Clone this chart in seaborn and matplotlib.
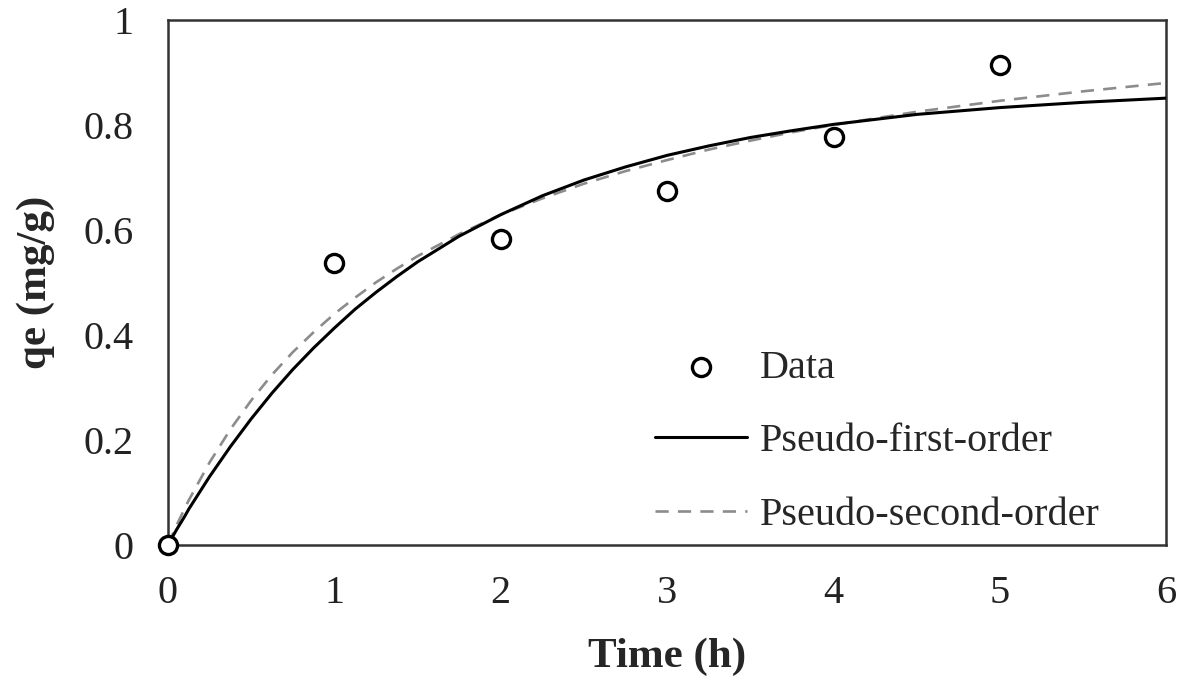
import numpy as np
import pandas as pd
import seaborn as sns
import matplotlib.pyplot as plt

# measured points
t_data = [0, 1, 2, 3, 4, 5]
q_data = [0, 0.537, 0.583, 0.674, 0.777, 0.914]

# fitted curves
t_fit = [0, 0.05, 0.1, 0.125, 0.25, 0.375, 0.5, 0.625, 0.75, 0.875, 1, 1.125, 1.25,
         1.375, 1.5, 1.75, 2, 2.25, 2.5, 2.75, 3, 3.25, 3.5, 3.75, 4, 4.5, 5, 5.5, 6]
q_first = [0, 0.028, 0.054, 0.068, 0.130, 0.187, 0.240, 0.289, 0.334, 0.375, 0.413,
           0.449, 0.481, 0.511, 0.539, 0.588, 0.629, 0.665, 0.695, 0.720, 0.742,
           0.760, 0.776, 0.789, 0.801, 0.820, 0.833, 0.843, 0.851]
q_second = [0, 0.036, 0.069, 0.085, 0.157, 0.220, 0.275, 0.324, 0.367, 0.405, 0.440,
            0.471, 0.500, 0.526, 0.550, 0.592, 0.629, 0.660, 0.688, 0.712, 0.733,
            0.753, 0.770, 0.786, 0.800, 0.825, 0.846, 0.864, 0.880]

x_ticks = [0, 1, 2, 3, 4, 5, 6]
y_ticks = [0, 0.2, 0.4, 0.6, 0.8, 1]
y_labels = ["0", "0.2", "0.4", "0.6", "0.8", "1"]

sns.set_style("white")
plt.rcParams["font.family"] = ["Liberation Serif", "DejaVu Serif"]

df_pts = pd.DataFrame({"t": t_data, "q": q_data})
df_fit = pd.DataFrame({"t": t_fit, "first": q_first, "second": q_second})

fig = plt.figure(figsize=(11.83, 6.87), dpi=100)
ax = fig.add_axes([0.142, 0.207, 0.844, 0.764])

sns.lineplot(data=df_fit, x="t", y="first", ax=ax, color="black", lw=2.2,
             label="Pseudo-first-order", zorder=3)
sns.lineplot(data=df_fit, x="t", y="second", ax=ax, color="#8c8c8c", lw=1.9,
             linestyle=(0, (5, 3.5)), label="Pseudo-second-order", zorder=2)
sns.scatterplot(data=df_pts, x="t", y="q", ax=ax, marker="o", s=170,
                facecolor="white", edgecolor="black", linewidth=2.4,
                label="Data", zorder=4, clip_on=False)

ax.set_xlim(0, 6)
ax.set_ylim(0, 1)
ax.set_xticks(x_ticks)
ax.set_yticks(y_ticks)
ax.set_yticklabels(y_labels)
ax.tick_params(axis="both", length=0, labelsize=29, colors="#222222")
ax.tick_params(axis="y", pad=25)
ax.tick_params(axis="x", pad=22)
ax.set_xlabel("Time (h)", fontsize=31, fontweight="bold", labelpad=18)
ax.set_ylabel("qe (mg/g)", fontsize=31, fontweight="bold", labelpad=20)
for sp in ax.spines.values():
    sp.set_color("#333333")
    sp.set_linewidth(1.8)

h, l = ax.get_legend_handles_labels()
order = [l.index("Data"), l.index("Pseudo-first-order"), l.index("Pseudo-second-order")]
ax.legend([h[i] for i in order], [l[i] for i in order], frameon=False,
          fontsize=29, loc="upper left", bbox_to_anchor=(0.4875, 0.372),
          borderpad=0, borderaxespad=0,
          handlelength=2.3, labelspacing=0.9, handletextpad=0.3)

fig.savefig("out.png", dpi=100)
